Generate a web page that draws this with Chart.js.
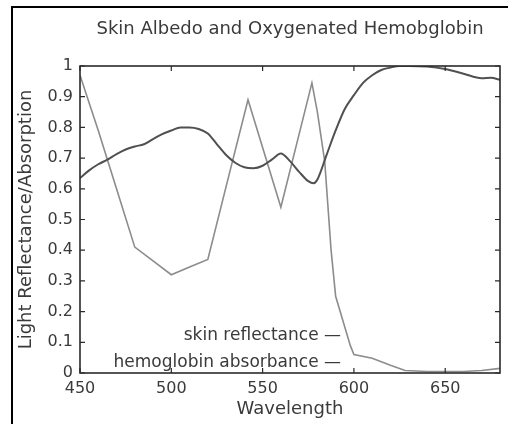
<!DOCTYPE html>
<html>
<head>
<meta charset="utf-8">
<script src="https://cdn.jsdelivr.net/npm/chart.js@4"></script>
<style>
  html, body { margin: 0; padding: 0; background: #fff; }
  #wrap { width: 508px; height: 424px; }
</style>
</head>
<body>
<div id="wrap"><canvas id="albedoChart" width="508" height="424"></canvas></div>
<script>
// valores
const skinWavelength = [450, 455, 460, 465, 470, 475, 480, 485, 490, 495, 500, 505, 510, 515, 520, 525, 530, 535, 540, 545, 550, 555, 560, 565, 570, 575, 578, 580, 585, 590, 595, 600, 605, 610, 615, 620, 625, 630, 640, 650, 660, 670, 675, 680];
const skinReflectance = [0.635, 0.66, 0.68, 0.695, 0.713, 0.728, 0.738, 0.745, 0.762, 0.778, 0.79, 0.8, 0.8, 0.795, 0.78, 0.745, 0.71, 0.685, 0.67, 0.667, 0.675, 0.695, 0.715, 0.69, 0.655, 0.625, 0.618, 0.63, 0.71, 0.79, 0.86, 0.905, 0.945, 0.97, 0.987, 0.995, 1.0, 1.0, 0.998, 0.99, 0.975, 0.96, 0.962, 0.955];

const hemoWavelength = [450, 460, 470, 480, 490, 500, 510, 520, 530, 542, 560, 577, 580, 584, 587.5, 590, 598, 600, 610, 620, 628, 640, 660, 670, 680];
const hemoAbsorbance = [0.97, 0.79, 0.6, 0.41, 0.365, 0.32, 0.345, 0.37, 0.607, 0.89, 0.54, 0.945, 0.85, 0.69, 0.4, 0.25, 0.09, 0.06, 0.048, 0.025, 0.008, 0.005, 0.005, 0.008, 0.015];

const legendLabels = ["skin reflectance \u2014", "hemoglobin absorbance \u2014"];

const fuente = "'DejaVu Sans', sans-serif";
const gris = "#3a3a3a";

function toPoints(xs, ys) {
    return xs.map((x, i) => ({ x: x, y: ys[i] }));
}

// marco, caja del grafico, marcas hacia dentro y leyenda
const cajaPlugin = {
    id: "caja",
    beforeDraw(chart) {
        const c = chart.ctx;
        c.save();
        c.fillStyle = "#fff";
        c.fillRect(0, 0, chart.width, chart.height);
        c.strokeStyle = "#000";
        c.lineWidth = 2;
        c.beginPath();
        c.moveTo(12, chart.height);
        c.lineTo(12, 7);
        c.lineTo(chart.width, 7);
        c.stroke();
        c.restore();
    },
    afterDraw(chart) {
        const c = chart.ctx;
        const a = chart.chartArea;
        const xs = chart.scales.x;
        const ys = chart.scales.y;
        c.save();
        c.strokeStyle = "#2a2a2a";
        c.lineWidth = 1.6;
        c.strokeRect(a.left, a.top, a.right - a.left, a.bottom - a.top);
        c.lineWidth = 1.2;
        c.beginPath();
        ys.ticks.forEach((t) => {
            const py = ys.getPixelForValue(t.value);
            c.moveTo(a.left, py); c.lineTo(a.left + 5, py);
            c.moveTo(a.right, py); c.lineTo(a.right - 5, py);
        });
        xs.ticks.forEach((t) => {
            const px = xs.getPixelForValue(t.value);
            c.moveTo(px, a.bottom); c.lineTo(px, a.bottom - 5);
            c.moveTo(px, a.top); c.lineTo(px, a.top + 5);
        });
        c.stroke();

        c.fillStyle = gris;
        c.font = "17px " + fuente;
        c.textAlign = "right";
        c.textBaseline = "middle";
        c.fillText(legendLabels[0], a.left + 261, a.bottom - 37);
        c.fillText(legendLabels[1], a.left + 261, a.bottom - 10);
        c.restore();
    },
};

document.addEventListener("DOMContentLoaded", () => {
    const ctx = document.getElementById("albedoChart");

    const config = {
        type: "line",
        data: {
            datasets: [
                {
                    label: "skin reflectance",
                    data: toPoints(skinWavelength, skinReflectance),
                    borderColor: "#505050",
                    borderWidth: 2,
                    pointRadius: 0,
                    cubicInterpolationMode: "monotone",
                    fill: false,
                },
                {
                    label: "hemoglobin absorbance",
                    data: toPoints(hemoWavelength, hemoAbsorbance),
                    borderColor: "#8c8c8c",
                    borderWidth: 1.6,
                    pointRadius: 0,
                    tension: 0,
                    fill: false,
                },
            ],
        },
        options: {
            responsive: false,
            animation: false,
            layout: { padding: { left: 0, right: 8, top: 0, bottom: 0 } },
            plugins: {
                legend: { display: false },
                tooltip: { enabled: false },
                title: {
                    display: true,
                    fullSize: false,
                    text: "Skin Albedo and Oxygenated Hemobglobin",
                    color: gris,
                    font: { family: fuente, size: 18, weight: "normal", lineHeight: 1.2 },
                    padding: { top: 18.2, bottom: 26.2 },
                },
            },
            scales: {
                x: {
                    type: "linear",
                    min: 450,
                    max: 680,
                    grid: { display: false, drawTicks: false },
                    border: { display: false },
                    ticks: {
                        stepSize: 50,
                        includeBounds: false,
                        maxRotation: 0,
                        padding: 6,
                        color: gris,
                        font: { family: fuente, size: 16 },
                    },
                    title: {
                        display: true,
                        text: "Wavelength",
                        color: gris,
                        font: { family: fuente, size: 18, lineHeight: 1.2 },
                        padding: { top: 0, bottom: 4 },
                    },
                    afterFit(scale) { scale.height = 51; },
                },
                y: {
                    min: 0,
                    max: 1,
                    grid: { display: false, drawTicks: false },
                    border: { display: false },
                    ticks: {
                        stepSize: 0.1,
                        padding: 7,
                        color: gris,
                        font: { family: fuente, size: 16 },
                        callback: (v) => (Math.round(v * 10) / 10).toString(),
                    },
                    title: {
                        display: true,
                        text: "Light Reflectance/Absorption",
                        color: gris,
                        font: { family: fuente, size: 18, lineHeight: 1.2 },
                        padding: { top: 16, bottom: 0 },
                    },
                    afterFit(scale) { scale.width = 80; },
                },
            },
        },
        plugins: [cajaPlugin],
    };

    new Chart(ctx, config);
});
</script>
</body>
</html>
